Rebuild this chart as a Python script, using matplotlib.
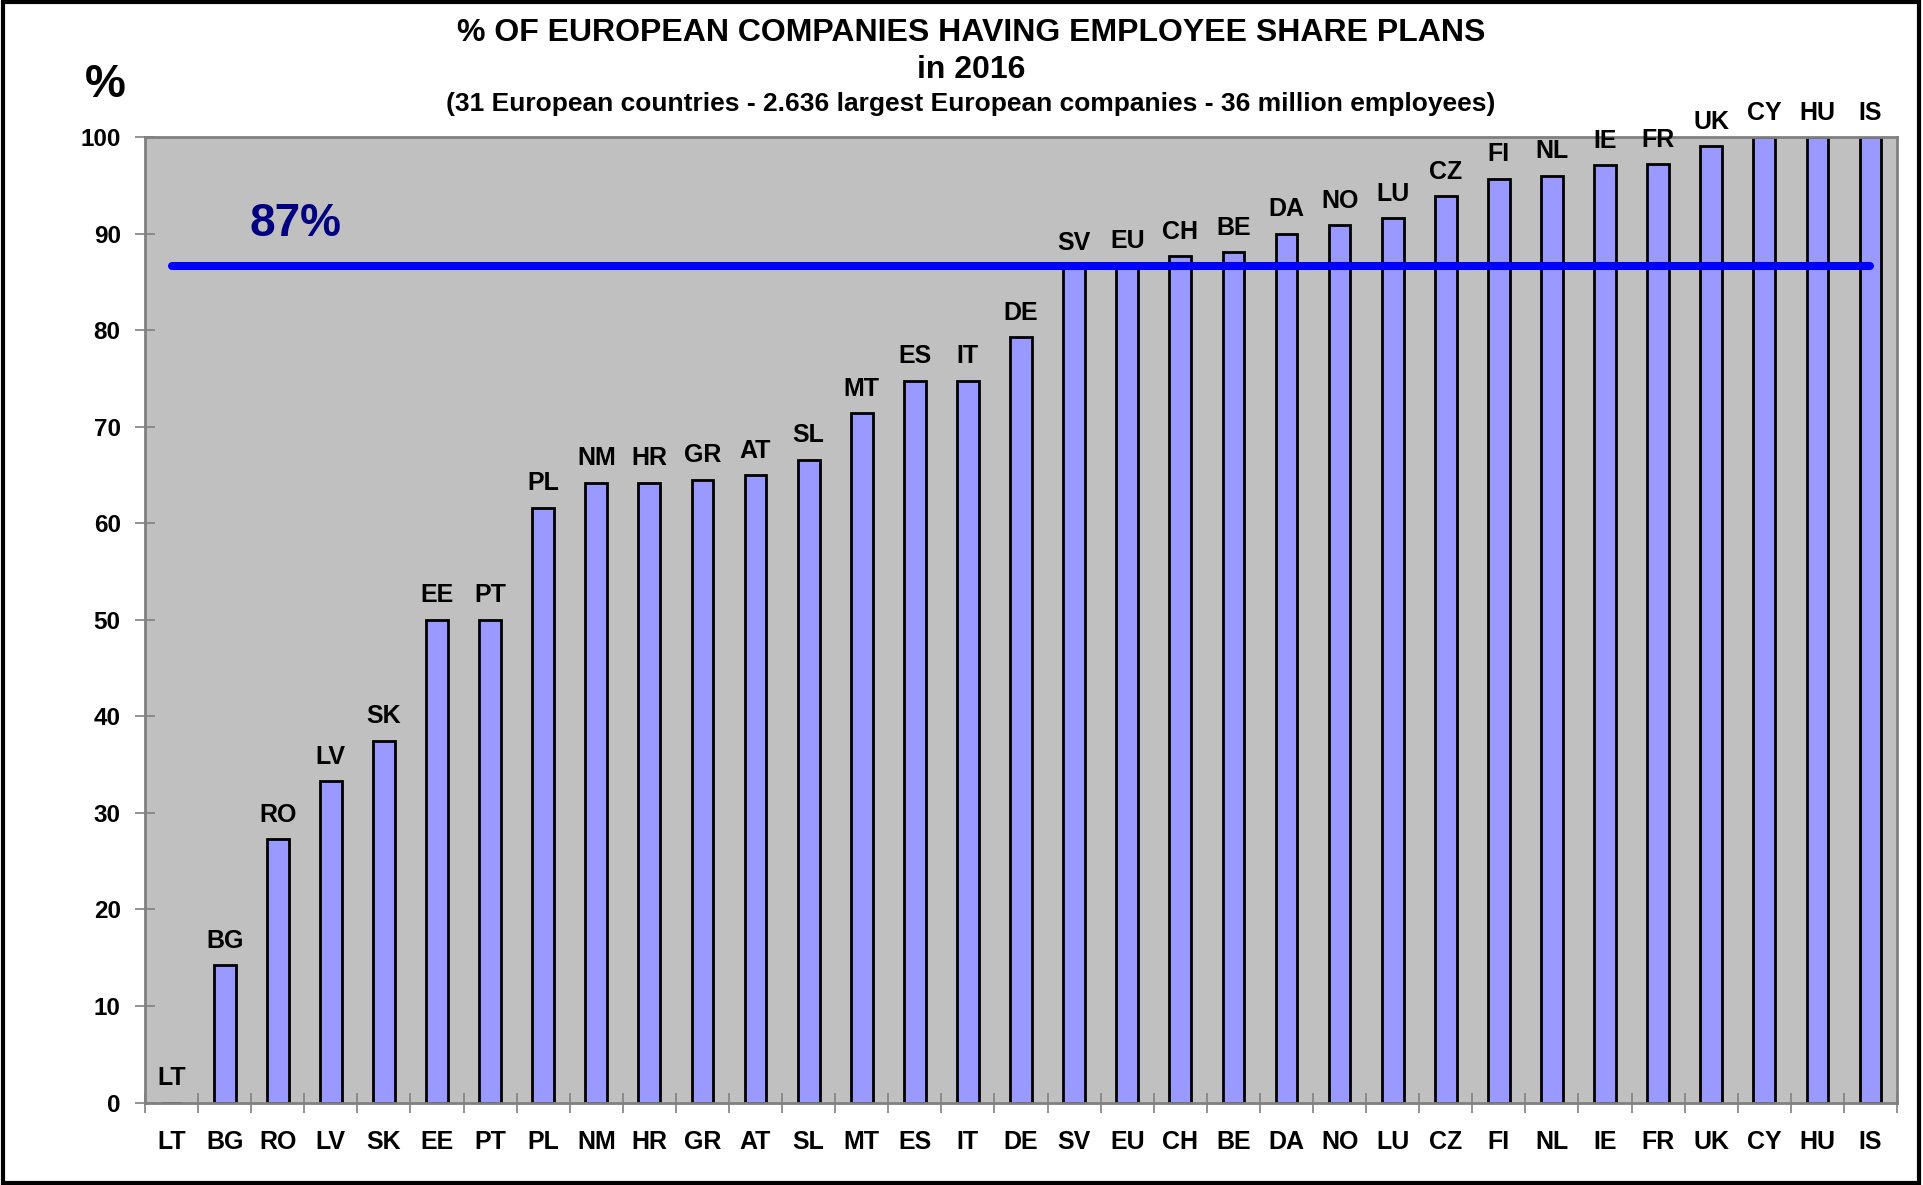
import matplotlib
matplotlib.use("Agg")
import matplotlib.pyplot as plt
from matplotlib.patches import Rectangle

countries = ["LT", "BG", "RO", "LV", "SK", "EE", "PT", "PL", "NM", "HR", "GR", "AT",
             "SL", "MT", "ES", "IT", "DE", "SV", "EU", "CH", "BE", "DA", "NO", "LU",
             "CZ", "FI", "NL", "IE", "FR", "UK", "CY", "HU", "IS"]
values = [0.0, 14.2, 27.3, 33.3, 37.5, 50.0, 50.0, 61.6, 64.2, 64.2, 64.5, 65.0,
          66.6, 71.4, 74.8, 74.8, 79.3, 86.5, 86.7, 87.7, 88.1, 90.0, 90.9, 91.6,
          93.9, 95.7, 96.0, 97.1, 97.2, 99.1, 100.0, 100.0, 100.0]
eu_average = 86.7
eu_label = "87%"
yticks = [0, 10, 20, 30, 40, 50, 60, 70, 80, 90, 100]

plt.rcParams['font.family'] = ['Liberation Sans', 'DejaVu Sans']
plt.rcParams['font.weight'] = 'bold'

fig = plt.figure(figsize=(19.23, 11.85), dpi=100)
ax = fig.add_axes([0.0754, 0.0696, 0.9111, 0.8145])
ax.set_facecolor("#C0C0C0")

x = list(range(len(countries)))
ax.bar(x, values, width=0.41, color="#9999FF", edgecolor="black", linewidth=2, zorder=2)

for xi, v, c in zip(x, values, countries):
    ax.annotate(c, (xi, v), xytext=(0, 9), textcoords="offset points",
                ha="center", va="bottom", fontsize=18, fontweight="bold", zorder=4)

ax.plot([x[0], x[-1]], [eu_average, eu_average], color="#0000FF", linewidth=5.8,
        solid_capstyle="round", zorder=3)
ax.text(2.34, 91.0, eu_label, color="#000080", fontsize=33, fontweight="bold",
        ha="center", va="center", zorder=4)

ax.set_xlim(-0.5, len(countries) - 0.5)
ax.set_ylim(0, 100)
ax.set_yticks(yticks)
ax.set_yticklabels([str(t) for t in yticks], fontsize=17.5, fontweight="bold")
ax.set_xticks([i - 0.5 for i in range(len(countries) + 1)], minor=False)
ax.set_xticklabels([])
ax.set_xticks(x, minor=True)
ax.set_xticklabels(countries, minor=True, fontsize=18, fontweight="bold")
ax.tick_params(axis="x", which="major", direction="inout", length=15, width=1.2,
               color="#808080")
ax.tick_params(axis="x", which="minor", length=0, pad=20)
ax.tick_params(axis="y", direction="inout", length=15, width=1.2, color="#808080", pad=10)
for s in ax.spines.values():
    s.set_color("#808080")
    s.set_linewidth(2)

fig.text(0.5048, 0.972, "% OF EUROPEAN COMPANIES HAVING EMPLOYEE SHARE PLANS",
         ha="center", va="center", fontsize=23, fontweight="bold")
fig.text(0.5048, 0.941, "in 2016", ha="center", va="center", fontsize=23, fontweight="bold")
fig.text(0.5048, 0.912,
         "(31 European countries - 2.636 largest European companies - 36 million employees)",
         ha="center", va="center", fontsize=19, fontweight="bold")
fig.text(0.0546, 0.928, "%", ha="center", va="center", fontsize=33, fontweight="bold")

fig.patches.append(Rectangle((0.0015, 0.002), 0.9965, 0.996, transform=fig.transFigure,
                             fill=False, edgecolor="black", linewidth=3))

fig.savefig("out.png", dpi=100)
